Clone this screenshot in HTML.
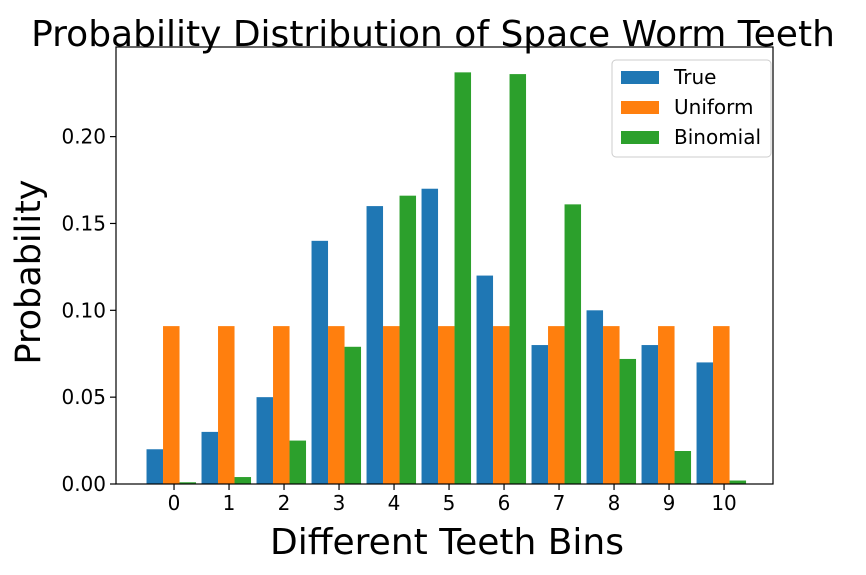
<!DOCTYPE html>
<html><head><meta charset="utf-8">
<style>
html,body{margin:0;padding:0;background:#fff;}
svg{display:block;font-family:"DejaVu Sans","Liberation Sans",sans-serif;}
</style></head>
<body>
<svg id="chart" width="866" height="575" viewBox="0 0 866 575">
<text x="433" y="46" text-anchor="middle" font-size="36" fill="#000">Probability Distribution of Space Worm Teeth</text>
<text transform="translate(40,272) rotate(-90)" text-anchor="middle" font-size="35" fill="#000">Probability</text>
<text x="447" y="554" text-anchor="middle" font-size="36" fill="#000">Different Teeth Bins</text>
<g id="bars"></g>
<g id="axes"></g>
<g id="legend"></g>
</svg>
<script>
const categories = [0,1,2,3,4,5,6,7,8,9,10];
const trueValues = [0.02,0.03,0.05,0.14,0.16,0.17,0.12,0.08,0.10,0.08,0.07];
const uniformValues = [0.0909,0.0909,0.0909,0.0909,0.0909,0.0909,0.0909,0.0909,0.0909,0.0909,0.0909];
const binomialValues = [0.001,0.004,0.025,0.079,0.166,0.237,0.236,0.161,0.072,0.019,0.002];
const yTicks = [0.00,0.05,0.10,0.15,0.20];
const yTickLabels = ["0.00","0.05","0.10","0.15","0.20"];
const seriesNames = ["True","Uniform","Binomial"];

const NS="http://www.w3.org/2000/svg";
const L=116,R=773,T=47,B=484;
const xMin=-1.055,xMax=10.89,yMax=0.2516;
function xs(v){return L+(v-xMin)/(xMax-xMin)*(R-L);}
function ys(v){return B-v/yMax*(B-T);}
function mk(tag,attrs,parent){const e=document.createElementNS(NS,tag);for(const k in attrs)e.setAttribute(k,attrs[k]);parent.appendChild(e);return e;}

const colors=["#1f77b4","#ff7f0e","#2ca02c"];
const offsets=[-0.5,-0.2,0.1];
const all=[trueValues,uniformValues,binomialValues];
const bars=document.getElementById('bars');
all.forEach((vals,s)=>{
  vals.forEach((v,i)=>{
    const x0=xs(categories[i]+offsets[s]),x1=xs(categories[i]+offsets[s]+0.3);
    const r=mk('rect',{x:x0,y:ys(v),width:x1-x0,height:ys(0)-ys(v),fill:colors[s]},bars);
    
    
  });
});

const axes=document.getElementById('axes');
const frame=mk('rect',{x:L,y:T,width:R-L,height:B-T,fill:'none',stroke:'#000','stroke-width':1.2},axes);


categories.forEach(c=>{
  const x=xs(c);
  mk('line',{x1:x,x2:x,y1:B,y2:B+6,stroke:'#000','stroke-width':1.2},axes);
  const t=mk('text',{x:x,y:B+26,'text-anchor':'middle','font-size':20,fill:'#000'},axes);
  t.textContent=c;
  
  
});
yTicks.forEach((v,i)=>{
  const y=ys(v);
  mk('line',{x1:L-6,x2:L,y1:y,y2:y,stroke:'#000','stroke-width':1.2},axes);
  const t=mk('text',{x:L-10,y:y+7,'text-anchor':'end','font-size':20,fill:'#000'},axes);
  t.textContent=yTickLabels[i];
  
  
});

const lg=document.getElementById('legend');
mk('rect',{x:612,y:60,width:159,height:97,rx:4,fill:'#fff',stroke:'#ccc','stroke-width':1},lg);
seriesNames.forEach((n,i)=>{
  const y=77+i*30;
  const sw=mk('rect',{x:621,y:y-6,width:38,height:13,fill:colors[i]},lg);
  
  
  const t=mk('text',{x:674,y:y+7,'font-size':20,fill:'#000'},lg);
  t.textContent=n;
  
  
});
</script>
</body></html>
